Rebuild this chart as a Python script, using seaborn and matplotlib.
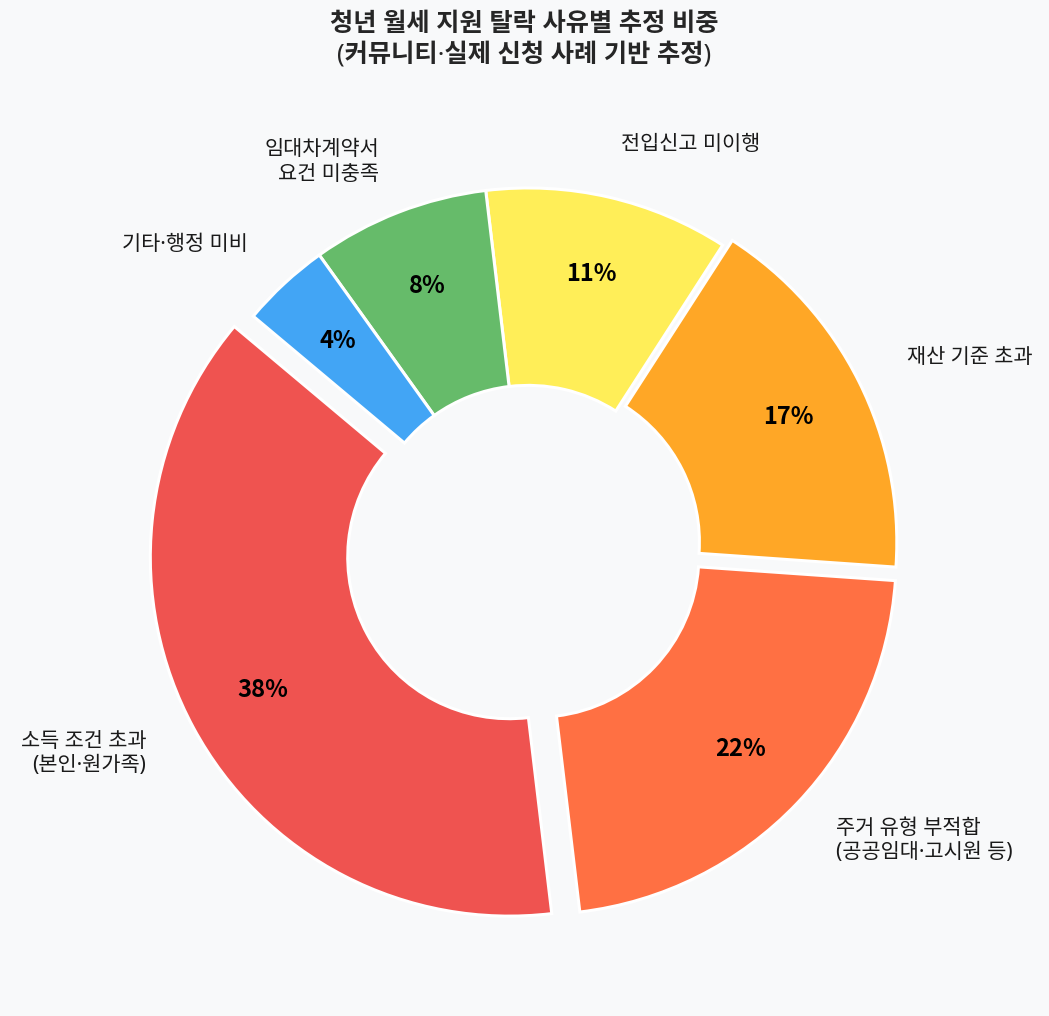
import matplotlib
matplotlib.use("Agg")
import matplotlib.pyplot as plt
import seaborn as sns

# data
reasons = ["소득 조건 초과\n(본인·원가족)", "주거 유형 부적합\n(공공임대·고시원 등)", "재산 기준 초과",
           "전입신고 미이행", "임대차계약서\n요건 미충족", "기타·행정 미비"]
shares = [38, 22, 17, 11, 8, 4]
colors = ["#EF5350", "#FF7043", "#FFA726", "#FFEE58", "#66BB6A", "#42A5F5"]
explode = [0.06, 0.035, 0.03, 0, 0, 0]

bg = "#f8f9fa"
sns.set_theme(style="white", rc={"figure.facecolor": bg, "axes.facecolor": bg})
plt.rcParams["font.family"] = ["Noto Sans", "Noto Sans CJK KR", "DejaVu Sans"]

fig = plt.figure(figsize=(10.49, 10.16), dpi=100)
pos = [0.0758, 0.0200, 0.8555, 0.8834]
ax = fig.add_axes(pos)

wedges, texts, autotexts = ax.pie(
    shares,
    labels=reasons,
    colors=colors,
    explode=explode,
    startangle=140,
    autopct="%d%%",
    pctdistance=0.78,
    labeldistance=1.15,
    wedgeprops=dict(width=0.55, edgecolor="white", linewidth=2.2),
    textprops=dict(fontsize=15, color="#1a1a1a"),
)
for t in autotexts:
    t.set_fontfamily(["Noto Sans CJK KR"])
    t.set_fontsize(17)
    t.set_fontweight("bold")
    t.set_color("black")

ax.set_position(pos)
fig.suptitle("청년 월세 지원 탈락 사유별 추정 비중\n(커뮤니티·실제 신청 사례 기반 추정)",
             fontsize=18.2, fontweight="bold", y=0.988, va="top")

fig.savefig("out.png", dpi=100, facecolor=bg)
